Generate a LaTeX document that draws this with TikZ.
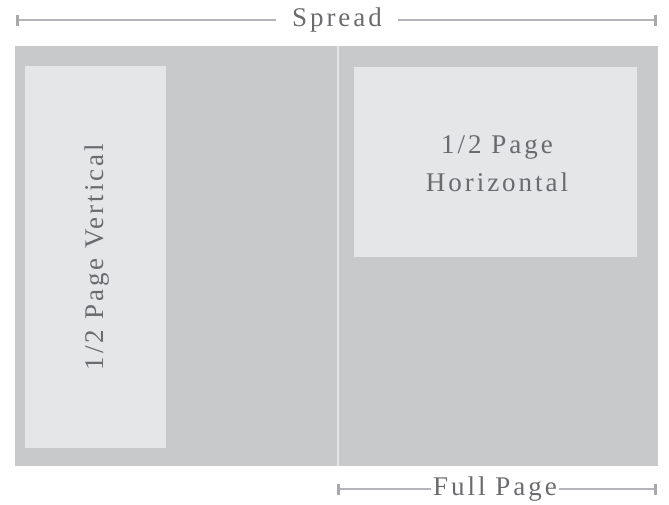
\documentclass[tikz,border=0pt]{standalone}
\usepackage{fontspec}
\usepackage{tikz}
\usetikzlibrary{arrows.meta, positioning, calc}
\usepackage{xcolor}
\newfontfamily\labelfont[LetterSpace=11]{Liberation Serif}
\definecolor{PanelGray}{HTML}{C8C9CB}
\definecolor{BoxGray}{HTML}{E5E6E8}
\definecolor{TextGray}{HTML}{6A6B6E}
\definecolor{RuleGray}{HTML}{B3B5B8}
\definecolor{TickGray}{HTML}{A7A9AC}
\tikzset{
    % page areas
    spreadarea/.style={
        rectangle,
        fill=PanelGray,
        draw=none
    },
    adbox/.style={
        rectangle,
        fill=BoxGray,
        draw=none
    },
    label/.style={
        font=\labelfont\fontsize{27}{38}\selectfont,
        text=TextGray,
        align=center
    },
    % dimension lines
    dimleft/.style={
        {Bar[width=11pt,line width=3pt,color=TickGray]}-,
        line width=1.5pt,
        draw=RuleGray
    },
    dimright/.style={
        -{Bar[width=11pt,line width=3pt,color=TickGray]},
        line width=1.5pt,
        draw=RuleGray
    }
}

\begin{document}
\begin{tikzpicture}[x=1pt, y=-1pt]
    \useasboundingbox (0,0) rectangle (669,504);

    % spread and its two pages
    \fill[spreadarea] (15,46) rectangle (658,466);
    \coordinate (fold top) at (337.5,46);
    \coordinate (fold bot) at (337.5,466);
    \draw[BoxGray, line width=2pt] (fold top) -- (fold bot);

    \fill[adbox] (25,66) rectangle (166,448);
    \fill[adbox] (354,67) rectangle (637,257);

    \node[label, rotate=90] (vert) at (97,257) {1/2 Page Vertical};
    \node[label] (horiz) at (497,164) {1/2 Page\\Horizontal};

    % spread dimension
    \coordinate (sl) at (16,20);
    \coordinate (sr) at (657,20);
    \node[label, inner xsep=16pt] (spread) at (337,20) {Spread};
    \draw[dimleft] (sl) -- (spread.west);
    \draw[dimright] (spread.east) -- (sr);

    % full page dimension
    \coordinate (fl) at (337,489);
    \coordinate (fr) at (657,489);
    \node[label, inner xsep=2pt] (full) at (495,489) {Full Page};
    \draw[dimleft] (fl) -- (full.west);
    \draw[dimright] (full.east) -- (fr);
\end{tikzpicture}
\end{document}
